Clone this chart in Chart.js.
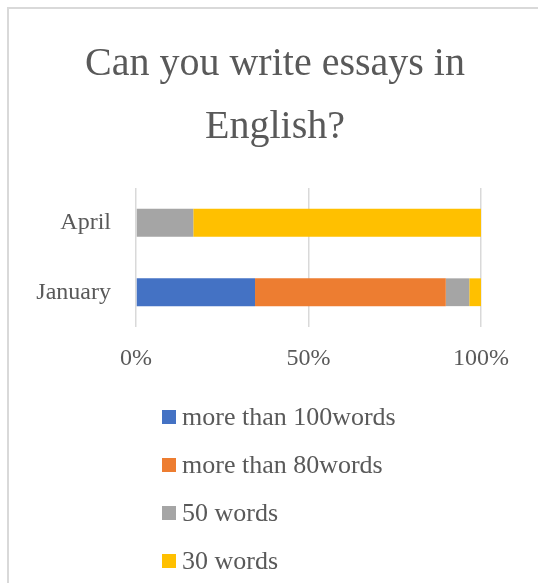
<!DOCTYPE html>
<html>
<head>
<meta charset="utf-8">
<script src="https://cdn.jsdelivr.net/npm/chart.js@4.4.1/dist/chart.umd.min.js"></script>
<style>
  html, body { margin: 0; padding: 0; background: #fff; overflow: hidden; }
  #wrap { position: relative; width: 538px; height: 583px; }
  #frame {
    position: absolute; left: 7px; top: 7px; width: 600px; height: 640px;
    border: 2px solid #d9d9d9; pointer-events: none;
  }
  #title {
    position: absolute; left: 0; top: 30px; width: 550px; text-align: center;
    font-family: "Liberation Serif", serif; font-size: 40px; line-height: 63px; color: #595959;
  }
  #legend {
    position: absolute; left: 162px; top: 393px;
    font-family: "Liberation Serif", serif; font-size: 26px; color: #595959;
  }
  .item { height: 48px; display: flex; align-items: center; }
  .box { width: 14px; height: 14px; margin-right: 6px; }
</style>
</head>
<body>
<div id="wrap">
  <canvas id="chart" width="538" height="583"></canvas>
  <div id="frame"></div>
  <div id="title"></div>
  <div id="legend"></div>
</div>
<script>
// chart data
const categories = ['April', 'January'];
const seriesNames = ['more than 100words', 'more than 80words', '50 words', '30 words'];
const more100 = [0, 34.5];
const more80 = [0, 55.3];
const words50 = [16.6, 6.8];
const words30 = [83.4, 3.4];
const xTicks = [0, 50, 100];
const titleLines = ['Can you write essays in', 'English?'];
const colors = ['#4472C4', '#ED7D31', '#A5A5A5', '#FFC000'];

const textColor = '#595959';
const fontFamily = '"Liberation Serif", serif';

const seriesValues = [more100, more80, words50, words30];

const chart = new Chart(document.getElementById('chart'), {
    type: 'bar',
    data: {
        labels: categories,
        datasets: seriesNames.map((name, i) => ({
            label: name,
            data: seriesValues[i],
            backgroundColor: colors[i],
            borderWidth: 0,
            barPercentage: 0.5,
            categoryPercentage: 0.8
        }))
    },
    options: {
        indexAxis: 'y',
        responsive: false,
        animation: false,
        layout: {
            // room for the title above and the legend below
            padding: { left: 0, right: 57, top: 188, bottom: 211 }
        },
        plugins: {
            legend: { display: false },
            tooltip: { enabled: false },
            title: { display: false }
        },
        scales: {
            x: {
                stacked: true,
                min: 0,
                max: 100,
                afterBuildTicks: (scale) => {
                    scale.ticks = xTicks.map(v => ({ value: v }));
                },
                afterFit: (scale) => { scale.height = 45; },
                ticks: {
                    color: textColor,
                    font: { family: fontFamily, size: 24 },
                    padding: 17,
                    callback: (v) => v + '%'
                },
                grid: { color: '#d9d9d9', lineWidth: 1.5, drawTicks: false },
                border: { display: false }
            },
            y: {
                stacked: true,
                afterFit: (scale) => { scale.width = 136; },
                ticks: {
                    color: textColor,
                    font: { family: fontFamily, size: 24 },
                    padding: 25
                },
                grid: { display: false, drawTicks: false },
                border: { display: false }
            }
        }
    }
});

// title, centred a little right of the plot like the original
const titleEl = document.getElementById('title');
titleLines.forEach((line) => {
    const row = document.createElement('div');
    row.textContent = line;
    titleEl.appendChild(row);
});

// vertical legend like the original
const legendEl = document.getElementById('legend');
chart.data.datasets.forEach((ds) => {
    const item = document.createElement('div');
    item.className = 'item';
    const box = document.createElement('span');
    box.className = 'box';
    box.style.background = ds.backgroundColor;
    const label = document.createElement('span');
    label.textContent = ds.label;
    item.appendChild(box);
    item.appendChild(label);
    legendEl.appendChild(item);
});
</script>
</body>
</html>
